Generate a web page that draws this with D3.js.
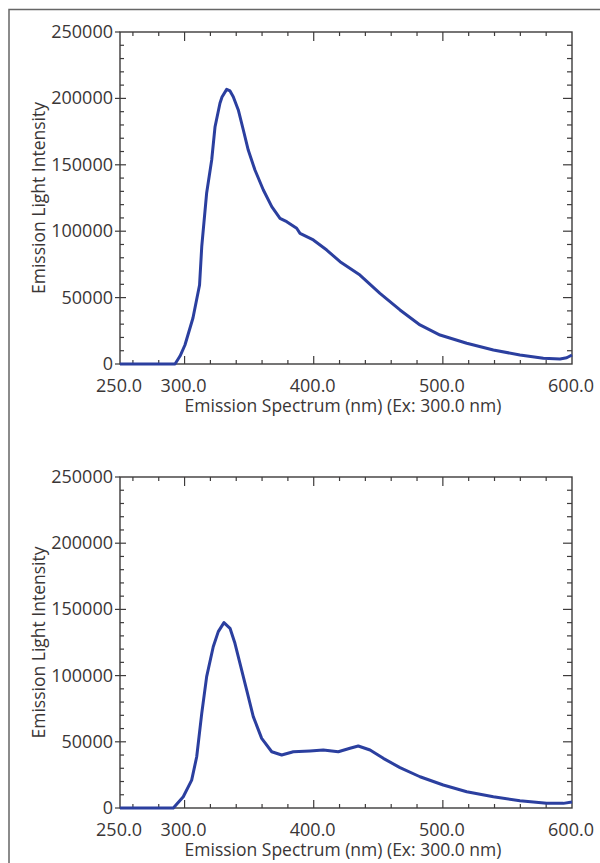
<!DOCTYPE html>
<html>
<head>
<meta charset="utf-8">
<script src="https://cdn.jsdelivr.net/npm/d3@7"></script>
<style>
  html, body { margin: 0; padding: 0; background: #fff; }
  svg text { font-family: "Open Sans", "Noto Sans", sans-serif; fill: #3a3636; }
</style>
</head>
<body>
<div id="chart"></div>
<script>
// Spectrum 1 (upper panel)
const wavelengthA = [250, 292.6, 296.5, 300.3, 306.5, 311.6, 313.3, 317.1, 321, 323.6, 327.4, 329, 332.6, 335.2,
  337.7, 341.6, 345.5, 349.3, 354.5, 361, 367.5, 373.9, 379.1, 386.8, 389.4, 399.7, 410.1, 420.4, 435.8,
  451.3, 466.8, 482.3, 497.8, 518.5, 539.1, 559.7, 577.8, 590.7, 595.9, 600];
const intensityA = [0, 0, 6000, 14300, 34600, 59500, 88300, 128800, 153600, 178700, 196300, 201000, 206800, 205600,
  201300, 191300, 176200, 161100, 146100, 131000, 118500, 109700, 107200, 102200, 98400, 93400, 85800, 77000, 67000,
  53200, 40700, 29400, 21800, 15600, 10500, 6800, 4300, 3800, 4700, 6800];

// Spectrum 2 (lower panel)
const wavelengthB = [250, 291.3, 299, 305.5, 309.4, 313.3, 317.1, 322.2, 326.1, 330.5, 335.2, 339, 342.9, 348.1,
  353.2, 359.7, 367.5, 375.2, 384.2, 397.1, 407.4, 419, 428.1, 434.5, 443.6, 453.9, 466.8, 482.3, 500.3, 518.5,
  539.1, 559.7, 580.4, 593.3, 600];
const intensityB = [0, 0, 8500, 21100, 38700, 71500, 99200, 121800, 133200, 140000, 135700, 124400, 109300, 89100,
  69000, 52600, 42500, 40000, 42500, 43100, 43800, 42500, 45100, 46800, 43800, 37500, 30500, 23600, 17400, 12300,
  8500, 5500, 3500, 3500, 4500];

const xTickValues = [250, 300, 400, 500, 600];
const xTickLabels = ["250.0", "300.0", "400.0", "500.0", "600.0"];
const yTickValues = [0, 50000, 100000, 150000, 200000, 250000];
const yTickLabels = ["0", "50000", "100000", "150000", "200000", "250000"];

const xTitle = "Emission Spectrum (nm) (Ex: 300.0 nm)";
const yTitle = "Emission Light Intensity";

const W = 600, H = 863;
const LEFT = 120, RIGHT = 572;
const LINE_COLOR = "#2b3f9f";
const AXIS_COLOR = "#3d3b3b";

const svg = d3.select("#chart").append("svg")
  .attr("width", W)
  .attr("height", H);

// outer frame (left + top edges)
svg.append("path")
  .attr("d", `M9,${H} L9,9.5 L${W},9.5`)
  .attr("fill", "none")
  .attr("stroke", "#666")
  .attr("stroke-width", 1.5);

function drawPanel(top, bottom, wl, vals) {
  const x = d3.scaleLinear().domain([250, 600]).range([LEFT, RIGHT]);
  const y = d3.scaleLinear().domain([0, 250000]).range([bottom, top]);
  const g = svg.append("g");

  const minorX = d3.range(260, 600, 20).filter(v => v % 100 !== 0);
  const majorX = [300, 400, 500];
  const minorY = d3.range(10000, 250000, 10000).filter(v => v % 50000 !== 0);
  const majorY = [50000, 100000, 150000, 200000];

  const tick = (x1, y1, x2, y2) => g.append("line")
    .attr("x1", x1).attr("y1", y1).attr("x2", x2).attr("y2", y2)
    .attr("stroke", AXIS_COLOR).attr("stroke-width", 1.2);

  // ── Ticks ──
  minorX.forEach(v => { tick(x(v), bottom, x(v), bottom - 4); tick(x(v), top, x(v), top + 4); });
  majorX.forEach(v => { tick(x(v), bottom, x(v), bottom - 8); tick(x(v), top, x(v), top + 9); });
  minorY.forEach(v => { tick(LEFT, y(v), LEFT + 4, y(v)); tick(RIGHT, y(v), RIGHT - 5, y(v)); });
  majorY.forEach(v => { tick(LEFT - 5, y(v), LEFT + 6, y(v)); tick(RIGHT, y(v), RIGHT - 9, y(v)); });
  [0, 250000].forEach(v => tick(LEFT - 5, y(v), LEFT, y(v)));

  // ── Axis frame ──
  g.append("rect")
    .attr("x", LEFT).attr("y", top)
    .attr("width", RIGHT - LEFT).attr("height", bottom - top)
    .attr("fill", "none")
    .attr("stroke", AXIS_COLOR)
    .attr("stroke-width", 1.4);

  // ── Curve ──
  const line = d3.line()
    .x((d, i) => x(wl[i]))
    .y(d => y(d));
  g.append("path")
    .datum(vals)
    .attr("d", line)
    .attr("fill", "none")
    .attr("stroke", LINE_COLOR)
    .attr("stroke-width", 3)
    .attr("stroke-linejoin", "round");

  // ── Labels ──
  g.selectAll("text.ylab")
    .data(yTickValues)
    .join("text")
    .attr("class", "ylab")
    .attr("x", LEFT - 7)
    .attr("y", d => y(d) + 6)
    .attr("text-anchor", "end")
    .style("font-size", "18px")
    .text((d, i) => yTickLabels[i]);

  g.selectAll("text.xlab")
    .data(xTickValues)
    .join("text")
    .attr("class", "xlab")
    .attr("x", d => x(d) - 1)
    .attr("y", bottom + 28)
    .attr("text-anchor", "middle")
    .style("font-size", "18px")
    .text((d, i) => xTickLabels[i]);

  g.append("text")
    .attr("x", 343)
    .attr("y", bottom + 48)
    .attr("text-anchor", "middle")
    .style("font-size", "17.5px")
    .text(xTitle);

  g.append("text")
    .attr("transform", `translate(45,${(top + bottom) / 2}) rotate(-90)`)
    .attr("text-anchor", "middle")
    .style("font-size", "17.5px")
    .text(yTitle);
}

drawPanel(32, 364, wavelengthA, intensityA);
drawPanel(477, 808, wavelengthB, intensityB);
</script>
</body>
</html>
